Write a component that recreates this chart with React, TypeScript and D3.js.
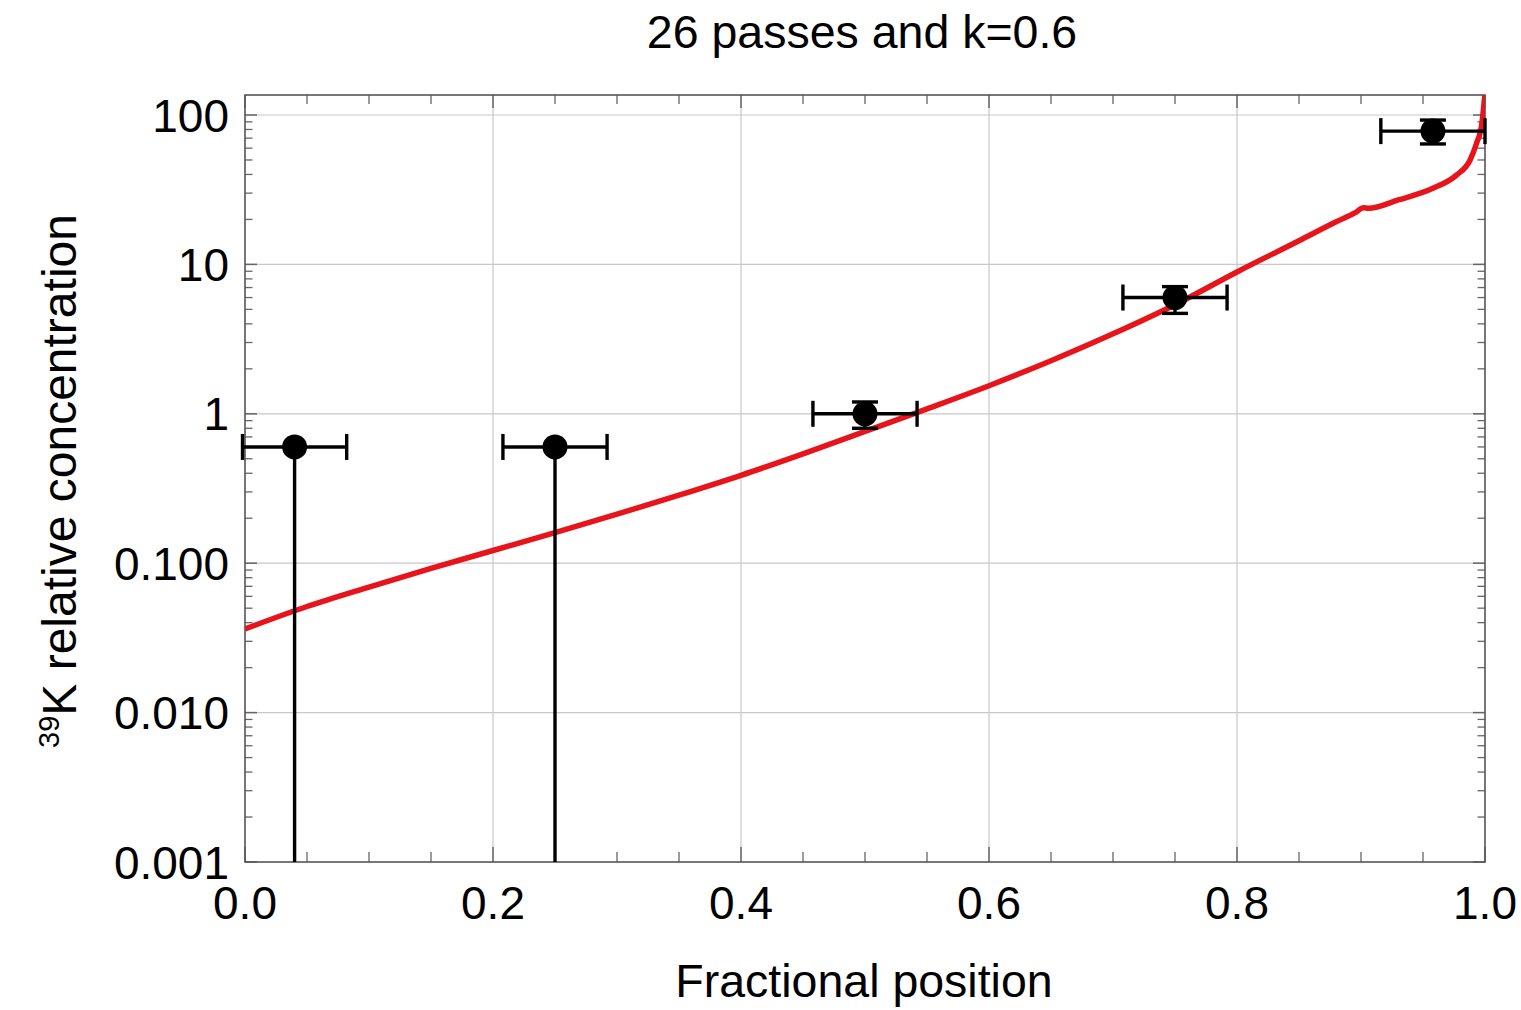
import React from "react";
import * as d3 from "d3";

const curveX = [0, 0.05, 0.1, 0.15, 0.2, 0.25, 0.3, 0.35, 0.4, 0.45, 0.5, 0.55, 0.6, 0.65, 0.7, 0.75, 0.8, 0.85, 0.88, 0.895, 0.902, 0.906, 0.93, 0.958, 0.977, 0.988, 0.993, 0.9975, 1.0];
const curveY = [0.0363, 0.0513, 0.0692, 0.0923, 0.1216, 0.1603, 0.2128, 0.2851, 0.3873, 0.5395, 0.762, 1.079, 1.542, 2.265, 3.428, 5.37, 8.9, 14.4, 19.3, 22.1, 23.9, 23.75, 27.0, 32.3, 39.6, 50.0, 64.0, 88.0, 140];

const pointX = [0.04, 0.25, 0.5, 0.75, 0.958];
const pointY = [0.6, 0.6, 1.0, 6.0, 78];
const xErr = [0.042, 0.042, 0.042, 0.042, 0.042];
const yErrLow = [0.6, 0.6, 0.2, 1.3, 14];
const yErrHigh = [0, 0, 0.2, 1.1, 14.5];

const xTickValues = [0, 0.2, 0.4, 0.6, 0.8, 1.0];
const xTickLabels = ["0.0", "0.2", "0.4", "0.6", "0.8", "1.0"];
const yTickValues = [100, 10, 1, 0.1, 0.01, 0.001];
const yTickLabels = ["100", "10", "1", "0.100", "0.010", "0.001"];

const title = "26 passes and k=0.6";
const xLabel = "Fractional position";

const W = 1521, H = 1010;
const L = 245, R = 1485, T = 95, B = 862;
const FONT = "'Liberation Sans', Arial, Helvetica, sans-serif";

export default function App() {
  const x = d3.scaleLinear().domain([0, 1]).range([L, R]);
  const yTop = Math.pow(10, 2 + (115 - T) / 149.4);
  const y = d3.scaleLog().domain([0.001, yTop]).range([B, T]);

  const line = d3
    .line<number>()
    .x((_, i) => x(curveX[i]))
    .y((_, i) => y(curveY[i]))
    .curve(d3.curveMonotoneX);

  const xMinor = d3.range(0, 21).map((i) => i * 0.05).filter((v, i) => i % 4 !== 0);
  const yMinor: number[] = [];
  for (let e = -3; e <= 2; e++) {
    for (let m = 2; m <= 9; m++) {
      const v = m * Math.pow(10, e);
      if (v < yTop) yMinor.push(v);
    }
  }
  const gridX = [0.2, 0.4, 0.6, 0.8];
  const gridY = [0.01, 0.1, 1, 10, 100];
  const tickColor = "#666";

  return (
    <svg width={W} height={H} style={{ position: "absolute", left: 0, top: 0, background: "#fff" }}>
      <defs>
        <clipPath id="plotClip">
          <rect x={L} y={T} width={R - L} height={B - T} />
        </clipPath>
      </defs>
      <rect x={0} y={0} width={W} height={H} fill="#fff" />
      {gridX.map((v) => (
        <line key={"gx" + v} x1={x(v)} x2={x(v)} y1={T} y2={B} stroke="#c8c8c8" strokeWidth={1.2} />
      ))}
      {gridY.map((v) => (
        <line key={"gy" + v} x1={L} x2={R} y1={y(v)} y2={y(v)} stroke="#c8c8c8" strokeWidth={1.2} />
      ))}
      {xTickValues.map((v) => (
        <g key={"xt" + v}>
          <line x1={x(v)} x2={x(v)} y1={B} y2={B - 15} stroke={tickColor} strokeWidth={1.5} />
          <line x1={x(v)} x2={x(v)} y1={T} y2={T + 13} stroke={tickColor} strokeWidth={1.5} />
        </g>
      ))}
      {xMinor.map((v) => (
        <g key={"xm" + v}>
          <line x1={x(v)} x2={x(v)} y1={B} y2={B - 10} stroke={tickColor} strokeWidth={1.3} />
          <line x1={x(v)} x2={x(v)} y1={T} y2={T + 9} stroke={tickColor} strokeWidth={1.3} />
        </g>
      ))}
      {yTickValues.map((v) => (
        <g key={"yt" + v}>
          <line x1={L} x2={L + 12} y1={y(v)} y2={y(v)} stroke={tickColor} strokeWidth={1.5} />
          <line x1={R} x2={R - 12} y1={y(v)} y2={y(v)} stroke={tickColor} strokeWidth={1.5} />
        </g>
      ))}
      {yMinor.map((v) => (
        <g key={"ym" + v}>
          <line x1={L} x2={L + 7.5} y1={y(v)} y2={y(v)} stroke={tickColor} strokeWidth={1.3} />
          <line x1={R} x2={R - 7.5} y1={y(v)} y2={y(v)} stroke={tickColor} strokeWidth={1.3} />
        </g>
      ))}
      <rect x={L} y={T} width={R - L} height={B - T} fill="none" stroke="#555" strokeWidth={1.6} />
      <path d={line(curveX) || ""} fill="none" stroke="#e8141c" strokeWidth={5.5} clipPath="url(#plotClip)" strokeLinejoin="round" />
      {pointX.map((px, i) => {
        const cx = x(px);
        const cy = y(pointY[i]);
        const xl = x(px - xErr[i]);
        const xr = x(px + xErr[i]);
        const lowV = pointY[i] - yErrLow[i];
        const highV = pointY[i] + yErrHigh[i];
        const yl = lowV > 0.001 ? y(lowV) : B;
        const yh = y(highV);
        const capH = 13;
        return (
          <g key={"p" + i} stroke="#000" strokeWidth={3.4}>
            <line x1={xl} x2={xr} y1={cy} y2={cy} />
            <line x1={xl} x2={xl} y1={cy - capH} y2={cy + capH} />
            <line x1={xr} x2={xr} y1={cy - capH} y2={cy + capH} />
            <line x1={cx} x2={cx} y1={yl} y2={yh} />
            {lowV > 0.001 && <line x1={cx - capH} x2={cx + capH} y1={yl} y2={yl} />}
            {yErrHigh[i] > 0 && <line x1={cx - capH} x2={cx + capH} y1={yh} y2={yh} />}
            <circle cx={cx} cy={cy} r={12.5} fill="#000" stroke="none" />
          </g>
        );
      })}
      {xTickValues.map((v, i) => (
        <text key={"xl" + v} x={x(v)} y={919} textAnchor="middle" fontFamily={FONT} fontSize={46} fill="#000">
          {xTickLabels[i]}
        </text>
      ))}
      {yTickValues.map((v, i) => (
        <text key={"yl" + v} x={229} y={y(v)} dy="0.36em" textAnchor="end" fontFamily={FONT} fontSize={46} fill="#000">
          {yTickLabels[i]}
        </text>
      ))}
      <text x={862} y={48} textAnchor="middle" fontFamily={FONT} fontSize={46.5} fill="#000">
        {title}
      </text>
      <text x={864} y={997} textAnchor="middle" fontFamily={FONT} fontSize={46.5} fill="#000">
        {xLabel}
      </text>
      <text transform={`translate(76,${481}) rotate(-90)`} textAnchor="middle" fontFamily={FONT} fontSize={48} fill="#000">
        <tspan fontSize={29} dy="-17">39</tspan>
        <tspan dy="17">K relative concentration</tspan>
      </text>
    </svg>
  );
}
